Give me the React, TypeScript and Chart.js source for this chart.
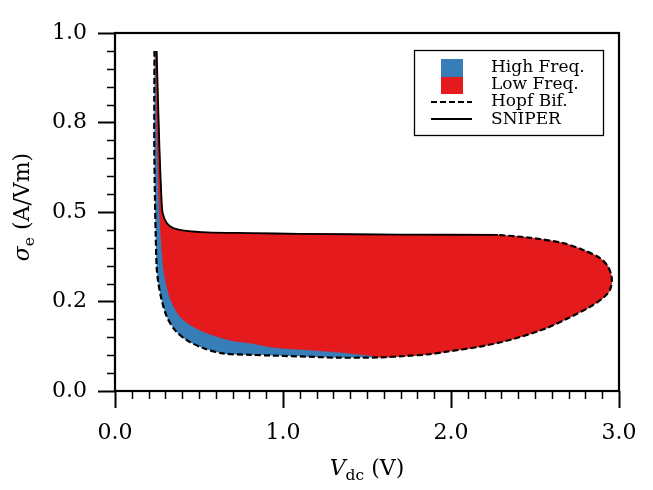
import React, { useEffect, useRef } from "react";
import { Chart, registerables } from "chart.js";

Chart.register(...registerables);

// Hopf bifurcation curve (dashed): from top-left, down, along the bottom, around the nose, back to the SNIPER end
const hopfX = [0.235, 0.234, 0.234, 0.238, 0.242, 0.248, 0.258, 0.278, 0.308, 0.357, 0.427, 0.524, 0.643, 0.804, 0.94, 1.141, 1.339, 1.577, 1.736, 1.875, 1.974, 2.173, 2.369, 2.57, 2.708, 2.827, 2.905, 2.946, 2.957, 2.935, 2.887, 2.786, 2.667, 2.47, 2.28];
const hopfY = [0.95, 0.813, 0.673, 0.534, 0.441, 0.347, 0.302, 0.254, 0.208, 0.17, 0.142, 0.12, 0.105, 0.101, 0.099, 0.096, 0.093, 0.094, 0.098, 0.103, 0.11, 0.124, 0.145, 0.176, 0.206, 0.235, 0.26, 0.282, 0.315, 0.347, 0.371, 0.394, 0.413, 0.428, 0.436];

// SNIPER curve (solid): from its right end back to the top-left
const sniperX = [2.28, 1.696, 1.101, 0.804, 0.546, 0.427, 0.347, 0.308, 0.284, 0.277, 0.265, 0.256, 0.248];
const sniperY = [0.436, 0.437, 0.439, 0.441, 0.443, 0.447, 0.455, 0.469, 0.497, 0.534, 0.673, 0.813, 0.95];

// Boundary between the high-frequency (blue) and low-frequency (red) regions
const splitX = [0.242, 0.247, 0.253, 0.262, 0.272, 0.288, 0.304, 0.332, 0.387, 0.464, 0.546, 0.685, 0.804, 0.94, 1.141, 1.339, 1.536, 1.577];
const splitY = [0.95, 0.813, 0.673, 0.534, 0.441, 0.347, 0.302, 0.254, 0.208, 0.18, 0.162, 0.142, 0.134, 0.122, 0.115, 0.108, 0.098, 0.094];

const xTickLabels = ["0.0", "1.0", "2.0", "3.0"];
const yTickLabels = ["0.0", "0.2", "0.5", "0.8", "1.0"];
const legendLabels = ["High Freq.", "Low Freq.", "Hopf Bif.", "SNIPER"];

const BLUE = "#377eb8";
const RED = "#e41a1c";
const FAMILY = "'DejaVu Serif', serif";

const toPts = (xs: number[], ys: number[]) => xs.map((x, i) => ({ x, y: ys[i] }));

type Part = { t: string; f: string; dy: number };

function drawRich(ctx: CanvasRenderingContext2D, parts: Part[], cx: number, by: number) {
  let total = 0;
  const widths = parts.map((p) => {
    ctx.font = p.f;
    const w = ctx.measureText(p.t).width;
    total += w;
    return w;
  });
  let x = cx - total / 2;
  ctx.textAlign = "left";
  ctx.textBaseline = "alphabetic";
  parts.forEach((p, i) => {
    ctx.font = p.f;
    ctx.fillText(p.t, x, by + p.dy);
    x += widths[i];
  });
}

const decorPlugin = {
  id: "decor",
  afterDraw(chart: any) {
    const ctx: CanvasRenderingContext2D = chart.ctx;
    const { left, right, top, bottom } = chart.chartArea;
    const xs = chart.scales.x;
    const ys = chart.scales.y;
    ctx.save();
    ctx.strokeStyle = "#000";
    ctx.fillStyle = "#000";
    // minor ticks
    ctx.lineWidth = 1.5;
    ctx.beginPath();
    for (let i = 0; i <= 30; i++) {
      if (i % 10 === 0) continue;
      const px = Math.round(xs.getPixelForValue(i / 10)) + 0.5;
      ctx.moveTo(px, bottom);
      ctx.lineTo(px, bottom + 8);
    }
    for (let i = 0; i <= 20; i++) {
      if (i % 5 === 0) continue;
      const py = Math.round(ys.getPixelForValue(i / 20)) + 0.5;
      ctx.moveTo(left, py);
      ctx.lineTo(left - 8, py);
    }
    ctx.stroke();
    // frame
    ctx.lineWidth = 2.2;
    ctx.strokeRect(left, top, right - left, bottom - top);

    // axis titles
    drawRich(
      ctx,
      [
        { t: "V", f: `italic 22px ${FAMILY}`, dy: 0 },
        { t: "dc", f: `15.5px ${FAMILY}`, dy: 4.5 },
        { t: " (V)", f: `22px ${FAMILY}`, dy: 0 },
      ],
      (left + right) / 2,
      475
    );
    ctx.save();
    ctx.translate(29, 207);
    ctx.rotate(-Math.PI / 2);
    drawRich(
      ctx,
      [
        { t: "σ", f: `italic 22px ${FAMILY}`, dy: 0 },
        { t: "e", f: `15.5px ${FAMILY}`, dy: 4.5 },
        { t: " (A/Vm)", f: `22px ${FAMILY}`, dy: 0 },
      ],
      0,
      0
    );
    ctx.restore();

    // legend
    ctx.fillStyle = "#fff";
    ctx.fillRect(414.5, 50.5, 189, 85);
    ctx.lineWidth = 1.3;
    ctx.strokeStyle = "#000";
    ctx.strokeRect(414.5, 50.5, 189, 85);
    ctx.fillStyle = BLUE;
    ctx.fillRect(441, 59, 22, 18);
    ctx.fillStyle = RED;
    ctx.fillRect(441, 77, 22, 17);
    ctx.lineWidth = 2.2;
    ctx.setLineDash([6, 3]);
    ctx.beginPath();
    ctx.moveTo(431, 102);
    ctx.lineTo(472, 102);
    ctx.stroke();
    ctx.setLineDash([]);
    ctx.beginPath();
    ctx.moveTo(431, 119);
    ctx.lineTo(472, 119);
    ctx.stroke();
    ctx.fillStyle = "#000";
    ctx.font = `17px ${FAMILY}`;
    ctx.textAlign = "left";
    ctx.textBaseline = "alphabetic";
    const baselines = [71.5, 88.5, 106, 123.5];
    legendLabels.forEach((l, i) => ctx.fillText(l, 491, baselines[i]));
    ctx.restore();
  },
};

export default function App() {
  const ref = useRef<HTMLCanvasElement>(null);
  useEffect(() => {
    if (!ref.current) return;
    const hopfPts = toPts(hopfX, hopfY);
    const sniperPts = toPts(sniperX, sniperY);
    const splitPts = toPts(splitX, splitY);
    const joinIdx = hopfX.findIndex((x, i) => i > 5 && x >= splitX[splitX.length - 1]);
    const blueRegion = [...hopfPts, ...sniperPts];
    const redRegion = [...splitPts, ...hopfPts.slice(joinIdx + 1), ...sniperPts];

    const chart = new Chart(ref.current, {
      type: "line",
      data: {
        datasets: [
          {
            label: legendLabels[2],
            data: hopfPts,
            borderColor: "#000",
            borderWidth: 2.2,
            borderDash: [6, 3],
            pointRadius: 0,
            fill: false,
            tension: 0.3,
            order: 0,
          },
          {
            label: legendLabels[3],
            data: sniperPts,
            borderColor: "#000",
            borderWidth: 1.8,
            pointRadius: 0,
            fill: false,
            tension: 0.3,
            order: 1,
          },
          {
            label: legendLabels[1],
            data: redRegion,
            borderColor: RED,
            borderWidth: 0.6,
            backgroundColor: RED,
            pointRadius: 0,
            fill: "shape",
            tension: 0.3,
            order: 2,
          },
          {
            label: legendLabels[0],
            data: blueRegion,
            borderColor: "rgba(0,0,0,0)",
            borderWidth: 1,
            backgroundColor: BLUE,
            pointRadius: 0,
            fill: "shape",
            tension: 0.3,
            order: 3,
          },
        ],
      },
      options: {
        animation: false,
        responsive: false,
        maintainAspectRatio: false,
        events: [],
        layout: { padding: { left: 0, top: 33, right: 34, bottom: 0 } },
        plugins: { legend: { display: false }, tooltip: { enabled: false } },
        scales: {
          x: {
            type: "linear",
            min: 0,
            max: 3,
            border: { display: false },
            grid: { drawOnChartArea: false, drawTicks: true, tickLength: 17, tickWidth: 2, tickColor: "#000" },
            ticks: {
              stepSize: 1,
              maxRotation: 0,
              padding: 12,
              color: "#000",
              font: { family: FAMILY, size: 22 },
              callback: (_v: any, i: number) => xTickLabels[i],
            },
            afterFit: (s: any) => {
              s.height = 99;
            },
          },
          y: {
            type: "linear",
            min: 0,
            max: 1,
            border: { display: false },
            grid: { drawOnChartArea: false, drawTicks: true, tickLength: 17, tickWidth: 2, tickColor: "#000" },
            ticks: {
              stepSize: 0.25,
              padding: 11,
              color: "#000",
              font: { family: FAMILY, size: 22 },
              callback: (_v: any, i: number) => yTickLabels[i],
            },
            afterFit: (s: any) => {
              s.width = 115;
            },
          },
        },
      },
      plugins: [decorPlugin],
    });
    return () => chart.destroy();
  }, []);
  return (
    <div style={{ position: "absolute", left: 0, top: 0, width: 653, height: 490, background: "#fff" }}>
      <canvas ref={ref} width={653} height={490} style={{ display: "block" }} />
    </div>
  );
}
